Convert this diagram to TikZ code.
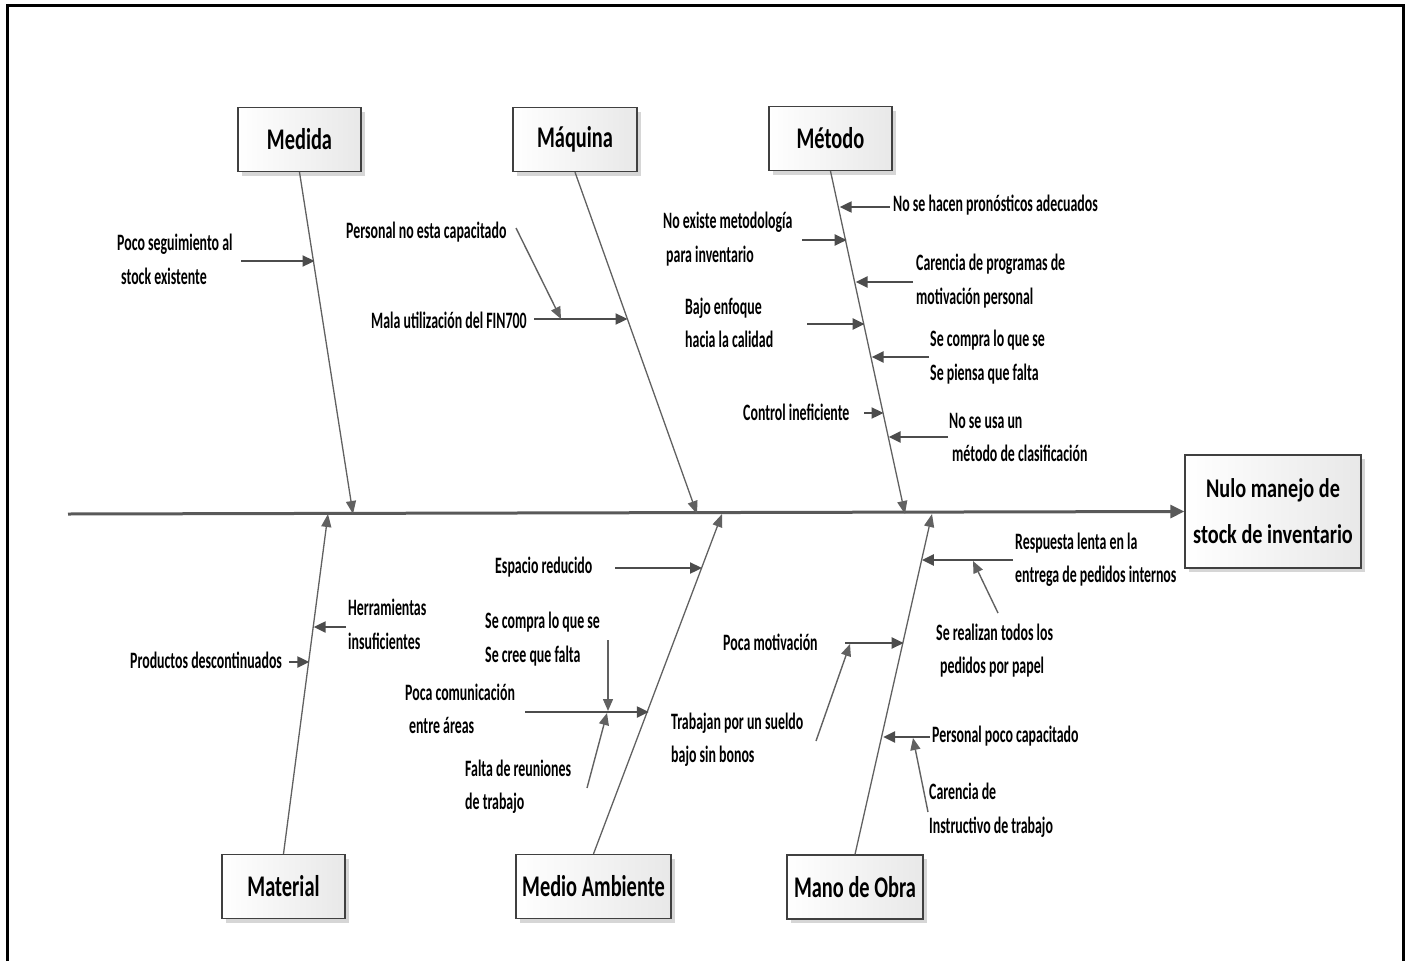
\documentclass[tikz,border=0pt]{standalone}
\usepackage{fontspec}
\setmainfont{Carlito}
\newfontfamily\causefont[FakeStretch=0.59]{Carlito}
\newfontfamily\titlefont[FakeStretch=0.68]{Carlito}
\newfontfamily\effectfont[FakeStretch=0.75]{Carlito}
\usetikzlibrary{arrows.meta,shadows}

\begin{document}
\begin{tikzpicture}[x=1pt,y=-1pt,
  catbox/.style={draw=black!75, line width=1.3pt, left color=white, right color=black!9,
    minimum width=#1, minimum height=64pt, inner sep=0pt,
    font=\titlefont\bfseries\fontsize{30}{34}\selectfont,
    drop shadow={shadow xshift=4pt, shadow yshift=-4pt, fill=black!16, opacity=1}},
  effectbox/.style={draw=black!75, line width=1.3pt, left color=white, right color=black!9,
    minimum width=176pt, minimum height=113pt, inner sep=0pt, align=center,
    font=\effectfont\bfseries\fontsize{27}{46}\selectfont,
    drop shadow={shadow xshift=4pt, shadow yshift=-4pt, fill=black!16, opacity=1}},
  lbl/.style={anchor=west, inner sep=0pt, align=left,
    font=\causefont\bfseries\fontsize{23.5}{33.5}\selectfont},
  spine/.style={draw=black!65, line width=3pt, -{Triangle[length=14pt,width=13pt]}},
  bone/.style={draw=black!62, line width=1.3pt, -{Triangle[length=13pt,width=10pt]}},
  cause/.style={draw=black!70, line width=2.3pt, -{Triangle[length=12pt,width=11pt]}},
  subcause/.style={draw=black!62, line width=1.4pt, -{Triangle[length=12pt,width=10pt]}}
]
\useasboundingbox (0,0) rectangle (1408,961);

% open frame
\draw[line width=3pt] (7,961) -- (7,5) -- (1403,5) -- (1403,961);

% effect and categories
\node[effectbox] (effect) at (1273,511.5) {Nulo manejo de\\stock de inventario};
\node[catbox=123pt] (medida)   at (299.5,139.5) {Medida};
\node[catbox=124pt] (maquina)  at (575,139.5)   {Máquina};
\node[catbox=123pt] (metodo)   at (830.5,138.5) {Método};
\node[catbox=123pt] (material) at (283.5,886.5) {Material};
\node[catbox=155pt] (medio)    at (593.5,886.5) {Medio Ambiente};
\node[catbox=136pt] (mano)     at (855,887)     {Mano de Obra};

% spine and bones
\coordinate (tail) at (68,514);
\coordinate (jMedida)   at (353,514);
\coordinate (jMaquina)  at (697,514);
\coordinate (jMetodo)   at (905,514);
\coordinate (jMaterial) at (328,514);
\coordinate (jMedio)    at (722,514);
\coordinate (jMano)     at (932,514);
\draw[spine] (tail) -- (effect.west);
\draw[bone] (medida.south)   -- (jMedida);
\draw[bone] (maquina.south)  -- (jMaquina);
\draw[bone] (metodo.south)   -- (jMetodo);
\draw[bone] (material.north) -- (jMaterial);
\draw[bone] (medio.north)    -- (jMedio);
\draw[bone] (mano.north)     -- (jMano);

% --- Medida
\node[lbl] (m1) at (117,259.5) {Poco seguimiento al\\\hspace{4pt}stock existente};
\coordinate (m1s) at (241,261); \coordinate (m1e) at (314.5,261);
\draw[cause] (m1s) -- (m1e);

% --- Maquina
\node[lbl] (q1) at (346,232) {Personal no esta capacitado};
\node[lbl] (q2) at (371,320) {Mala utilización del FIN700};
\coordinate (q2s) at (534,319); \coordinate (q2e) at (627.5,319);
\coordinate (q1s) at (516,228); \coordinate (q1e) at (561,319);
\draw[cause] (q2s) -- (q2e);
\draw[subcause] (q1s) -- (q1e);

% --- Metodo
\node[lbl] (t1) at (893,205) {No se hacen pronósticos adecuados};
\coordinate (t1s) at (890,207); \coordinate (t1e) at (839.7,207);
\draw[cause] (t1s) -- (t1e);
\node[lbl] (t2) at (663,239) {No existe metodología\\\hspace{3pt}para inventario};
\coordinate (t2s) at (802,240); \coordinate (t2e) at (846.7,240);
\draw[cause] (t2s) -- (t2e);
\node[lbl] (t3) at (916,281) {Carencia de programas de\\motivación personal};
\coordinate (t3s) at (913,282); \coordinate (t3e) at (855.6,282);
\draw[cause] (t3s) -- (t3e);
\node[lbl] (t4) at (685,323) {Bajo enfoque\\hacia la calidad};
\coordinate (t4s) at (807,324); \coordinate (t4e) at (864.6,324);
\draw[cause] (t4s) -- (t4e);
\node[lbl] (t5) at (930,357) {Se compra lo que se\\Se piensa que falta};
\coordinate (t5s) at (929,357); \coordinate (t5e) at (871.6,357);
\draw[cause] (t5s) -- (t5e);
\node[lbl] (t6) at (743,412) {Control ineficiente};
\coordinate (t6s) at (864,413); \coordinate (t6e) at (883.5,413);
\draw[cause] (t6s) -- (t6e);
\node[lbl] (t7) at (949,437.5) {No se usa un\\\hspace{3pt}método de clasificación};
\coordinate (t7s) at (948,437); \coordinate (t7e) at (888.6,437);
\draw[cause] (t7s) -- (t7e);

% --- Material
\node[lbl] (a1) at (348,624.5) {Herramientas\\insuficientes};
\coordinate (a1s) at (346,627); \coordinate (a1e) at (313.7,627);
\draw[cause] (a1s) -- (a1e);
\node[lbl] (a2) at (130,660) {Productos descontinuados};
\coordinate (a2s) at (289,662); \coordinate (a2e) at (309.3,662);
\draw[cause] (a2s) -- (a2e);

% --- Medio Ambiente
\node[lbl] (b1) at (495,567) {Espacio reducido};
\coordinate (b1s) at (615,568); \coordinate (b1e) at (702,568);
\draw[cause] (b1s) -- (b1e);
\node[lbl] (b2) at (485,639) {Se compra lo que se\\Se cree que falta};
\node[lbl] (b3) at (405,709) {Poca comunicación\\\hspace{4pt}entre áreas};
\node[lbl] (b4) at (465,786.5) {Falta de reuniones\\de trabajo};
\coordinate (b3s) at (525,712); \coordinate (b3e) at (648.8,712);
\coordinate (b2s) at (608,640); \coordinate (b2e) at (608,711);
\coordinate (b4s) at (587,788); \coordinate (b4e) at (607,713);
\draw[cause] (b3s) -- (b3e);
\draw[subcause] (b2s) -- (b2e);
\draw[subcause] (b4s) -- (b4e);

% --- Mano de Obra
\node[lbl] (o1) at (1015,559.5) {Respuesta lenta en la\\entrega de pedidos internos};
\coordinate (o1s) at (1013,560); \coordinate (o1e) at (921.9,560);
\draw[cause] (o1s) -- (o1e);
\node[lbl] (o2) at (936,650.5) {Se realizan todos los\\\hspace{4pt}pedidos por papel};
\coordinate (o2s) at (998,613); \coordinate (o2e) at (973,561);
\draw[subcause] (o2s) -- (o2e);
\node[lbl] (o3) at (723,642) {Poca motivación};
\coordinate (o3s) at (845,643); \coordinate (o3e) at (903.7,643);
\draw[cause] (o3s) -- (o3e);
\node[lbl] (o4) at (671,739.5) {Trabajan por un sueldo\\bajo sin bonos};
\coordinate (o4s) at (816,741); \coordinate (o4e) at (850,644);
\draw[subcause] (o4s) -- (o4e);
\node[lbl] (o5) at (932,736) {Personal poco capacitado};
\coordinate (o5s) at (930,737); \coordinate (o5e) at (883.1,737);
\draw[cause] (o5s) -- (o5e);
\node[lbl] (o6) at (929,810) {Carencia de\\Instructivo de trabajo};
\coordinate (o6s) at (928,812); \coordinate (o6e) at (913,738);
\draw[subcause] (o6s) -- (o6e);

\end{tikzpicture}
\end{document}
